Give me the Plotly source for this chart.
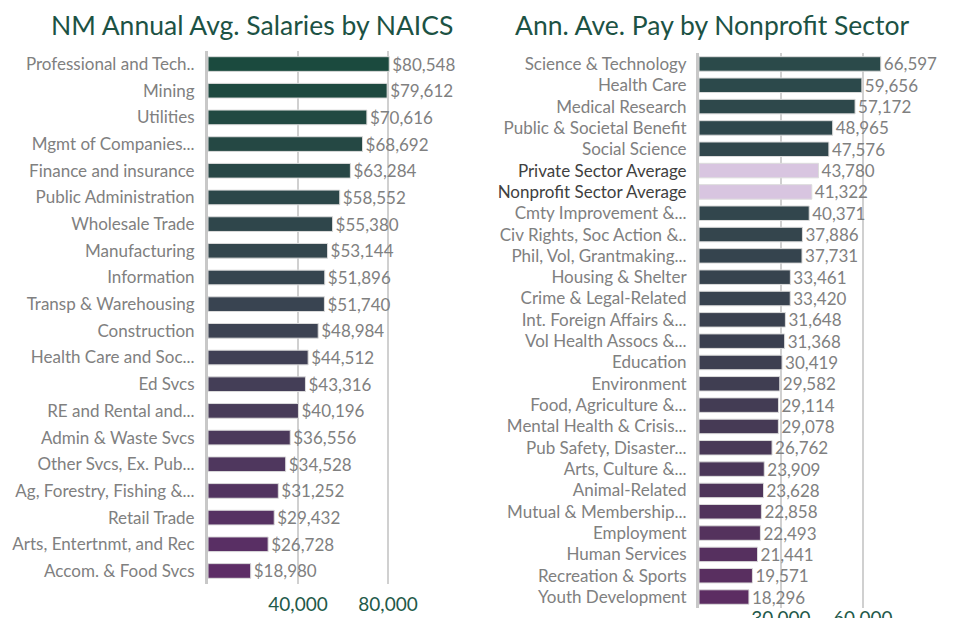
import plotly.graph_objects as go

# ---------------- data ----------------
naics_categories = [
    "Professional and Tech..", "Mining", "Utilities", "Mgmt of Companies...",
    "Finance and insurance", "Public Administration", "Wholesale Trade",
    "Manufacturing", "Information", "Transp & Warehousing", "Construction",
    "Health Care and Soc...", "Ed Svcs", "RE and Rental and...",
    "Admin & Waste Svcs", "Other Svcs, Ex. Pub...", "Ag, Forestry, Fishing &...",
    "Retail Trade", "Arts, Entertnmt, and Rec", "Accom. & Food Svcs",
]
naics_salaries = [
    80548, 79612, 70616, 68692, 63284, 58552, 55380, 53144, 51896, 51740,
    48984, 44512, 43316, 40196, 36556, 34528, 31252, 29432, 26728, 18980,
]

np_categories = [
    "Science & Technology", "Health Care", "Medical Research",
    "Public & Societal Benefit", "Social Science", "Private Sector Average",
    "Nonprofit Sector Average", "Cmty Improvement &...", "Civ Rights, Soc Action &..",
    "Phil, Vol, Grantmaking...", "Housing & Shelter", "Crime & Legal-Related",
    "Int. Foreign Affairs &...", "Vol Health Assocs &...", "Education",
    "Environment", "Food, Agriculture &...", "Mental Health & Crisis...",
    "Pub Safety, Disaster...", "Arts, Culture &...", "Animal-Related",
    "Mutual & Membership...", "Employment", "Human Services",
    "Recreation & Sports", "Youth Development",
]
np_pay = [
    66597, 59656, 57172, 48965, 47576, 43780, 41322, 40371, 37886, 37731,
    33461, 33420, 31648, 31368, 30419, 29582, 29114, 29078, 26762, 23909,
    23628, 22858, 22493, 21441, 19571, 18296,
]
np_averages = {"Private Sector Average", "Nonprofit Sector Average"}

left_ticks = [40000, 80000]
right_ticks = [30000, 60000]

# ---------------- styling helpers ----------------
def hex2rgb(h):
    h = h.lstrip("#")
    return [int(h[i:i + 2], 16) for i in (0, 2, 4)]

def gradient(stops, n):
    out = []
    for i in range(n):
        t = i / (n - 1) if n > 1 else 0
        seg = min(int(t * (len(stops) - 1)), len(stops) - 2)
        lt = t * (len(stops) - 1) - seg
        a, b = hex2rgb(stops[seg]), hex2rgb(stops[seg + 1])
        c = [round(a[k] + (b[k] - a[k]) * lt) for k in range(3)]
        out.append("rgb(%d,%d,%d)" % tuple(c))
    return out

left_colors = gradient(["#1b4a3e", "#3b4452", "#5d2d66"], len(naics_categories))
n_reg = len(np_categories) - len(np_averages)
reg_colors = gradient(["#2b4a4a", "#3c4050", "#5c2d62"], n_reg)
right_colors = []
ri = 0
for c in np_categories:
    if c in np_averages:
        right_colors.append("#d8c5e0")
    else:
        right_colors.append(reg_colors[ri])
        ri += 1

FONT = "Lato, 'Open Sans', sans-serif"
LABEL_GRAY = "#808080"
GREEN = "#1f5a4a"

# page has an 8px body margin around the figure
PAGE_OFF = 8
W, H = 945, 610

def fx(px):
    return (px - PAGE_OFF) / W

def fy(py):
    return (H - (py - PAGE_OFF)) / H

fig = go.Figure()

fig.add_trace(go.Bar(
    x=naics_salaries, y=naics_categories, orientation="h",
    marker=dict(color=left_colors, line=dict(color="#dcdcdc", width=1)),
    width=0.55,
    text=["$" + format(v, ",") for v in naics_salaries],
    textposition="outside", cliponaxis=False, constraintext="none",
    textfont=dict(family=FONT, size=17, color=LABEL_GRAY),
    xaxis="x", yaxis="y", hoverinfo="x+y",
))

np_ticktext = [
    ('<span style="color:#404040">%s</span>' % c) if c in np_averages else c
    for c in np_categories
]

fig.add_trace(go.Bar(
    x=np_pay, y=np_categories, orientation="h",
    marker=dict(color=right_colors, line=dict(color="#dcdcdc", width=1)),
    width=0.68,
    text=[format(v, ",") for v in np_pay],
    textposition="outside", cliponaxis=False, constraintext="none",
    textfont=dict(family=FONT, size=17, color=LABEL_GRAY),
    xaxis="x2", yaxis="y2", hoverinfo="x+y",
))

left_x0, left_x1 = 208, 458
right_x0, right_x1 = 699, 950
left_range = [0, (left_x1 - left_x0) * 40000 / 90.0]
right_range = [0, (right_x1 - right_x0) / 0.00273]

fig.update_layout(
    width=W, height=H,
    margin=dict(l=0, r=0, t=0, b=0, autoexpand=False),
    paper_bgcolor="white", plot_bgcolor="white",
    showlegend=False,
    font=dict(family=FONT, color=LABEL_GRAY, size=17),
    xaxis=dict(
        domain=[fx(left_x0), fx(left_x1)], range=left_range,
        tickvals=left_ticks, tickformat=",", automargin=False,
        showgrid=True, gridcolor="#d0d0d0", gridwidth=2,
        zeroline=False, showline=False,
        ticks="", ticklabelstandoff=7,
        tickfont=dict(family=FONT, size=19, color=GREEN),
        anchor="y",
    ),
    yaxis=dict(
        domain=[fy(584.3), fy(50.7)], autorange="reversed", automargin=False,
        showline=True, linecolor="#c8c8c8", linewidth=3,
        ticks="outside", ticklen=7, tickcolor="rgba(0,0,0,0)",
        tickfont=dict(family=FONT, size=17, color=LABEL_GRAY),
        anchor="x",
    ),
    xaxis2=dict(
        domain=[fx(right_x0), fx(right_x1)], range=right_range,
        tickvals=right_ticks, tickformat=",", automargin=False,
        showgrid=True, gridcolor="#d0d0d0", gridwidth=2,
        zeroline=False, showline=False,
        ticks="", ticklabelstandoff=-3,
        tickfont=dict(family=FONT, size=19, color=GREEN),
        anchor="y2",
    ),
    yaxis2=dict(
        domain=[fy(607.7), fy(53.3)], autorange="reversed", automargin=False,
        tickvals=np_categories, ticktext=np_ticktext,
        showline=True, linecolor="#c8c8c8", linewidth=3,
        ticks="outside", ticklen=6, tickcolor="rgba(0,0,0,0)",
        tickfont=dict(family=FONT, size=17, color=LABEL_GRAY),
        anchor="x2",
    ),
    annotations=[
        dict(text="NM Annual Avg. Salaries by NAICS", x=fx(252), y=fy(25),
             xref="paper", yref="paper", showarrow=False,
             xanchor="center", yanchor="middle",
             font=dict(family=FONT, size=26.5, color="#1c5244")),
        dict(text="Ann. Ave. Pay by Nonprofit Sector", x=fx(712), y=fy(25),
             xref="paper", yref="paper", showarrow=False,
             xanchor="center", yanchor="middle",
             font=dict(family=FONT, size=26.5, color="#1c5244")),
    ],
)

fig.write_html("out.html")
